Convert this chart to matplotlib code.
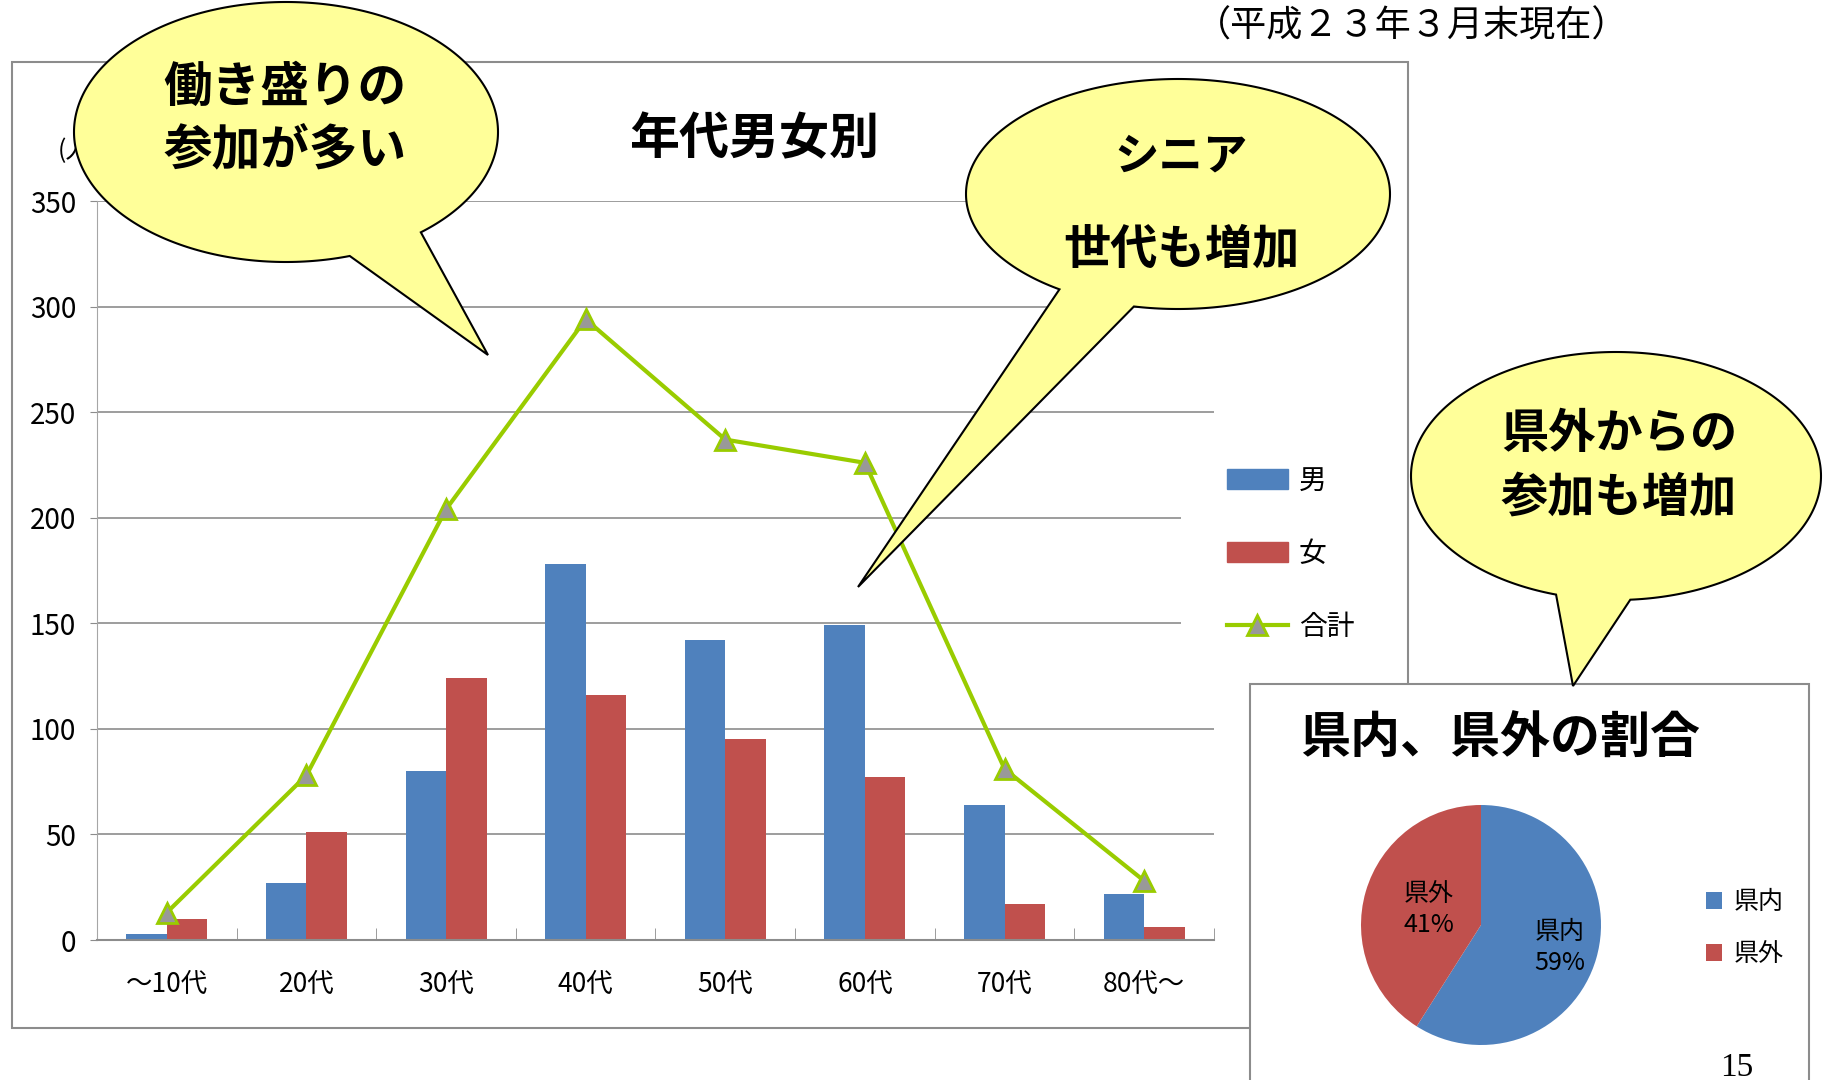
import numpy as np
import matplotlib
matplotlib.use('Agg')
import matplotlib.pyplot as plt
from matplotlib.patches import Rectangle, Polygon, Patch
from matplotlib.lines import Line2D

plt.rcParams['font.family'] = ['Noto Sans CJK JP', 'DejaVu Sans']

# data
ages = ['～10代', '20代', '30代', '40代', '50代', '60代', '70代', '80代～']
male = [3, 27, 80, 178, 142, 149, 64, 22]
female = [10, 51, 124, 116, 95, 77, 17, 6]
total = [13, 78, 204, 294, 237, 226, 81, 28]
yticks = [0, 50, 100, 150, 200, 250, 300, 350]

pie_labels = ['県内', '県外']
pie_share = [59, 41]

W, H = 1824, 1080
BLUE, RED, GREEN = '#4F81BD', '#C0504D', '#99CC00'
YELLOW = '#FFFF99'
FRAME = '#8c8c8c'

fig = plt.figure(figsize=(W / 100, H / 100), dpi=100)


def px_axes(x0, y0, x1, y1, z):
    # box in pixels, y measured from the top
    return fig.add_axes([x0 / W, 1 - y1 / H, (x1 - x0) / W, (y1 - y0) / H], zorder=z)


def layer(z):
    a = px_axes(0, 0, W, H, z)
    a.set_xlim(0, W)
    a.set_ylim(H, 0)
    a.axis('off')
    a.patch.set_alpha(0)
    return a


# background: main chart frame and date note
bg = layer(0)
bg.add_patch(Rectangle((12, 62), 1396, 966, facecolor='white', edgecolor=FRAME, lw=1.5))
bg.text(1412, 26, '（平成２３年３月末現在）', ha='center', va='center', fontsize=26)
bg.text(58, 151, '(人)', ha='left', va='center', fontsize=18)
bg.text(754, 140, '年代男女別', ha='center', va='center', fontsize=36, weight='bold')

# main bar + line chart
ax = px_axes(97, 201, 1214, 940, 1)
ax.patch.set_alpha(0)
x = np.arange(len(ages))
bw = 0.29
ax.bar(x - bw / 2, male, bw, color=BLUE, zorder=2)
ax.bar(x + bw / 2, female, bw, color=RED, zorder=2)
ax.plot(x, total, color=GREEN, lw=3, marker='^', ms=14, mfc='#999999',
        mec=GREEN, mew=2, zorder=3)
ax.set_xlim(-0.5, len(ages) - 0.5)
ax.set_ylim(0, 350)
ax.set_yticks(yticks)
ax.tick_params(axis='y', labelsize=20, length=5, color=FRAME, pad=10)
ax.set_xticks(x)
ax.set_xticklabels(ages)
ax.set_xticks(np.arange(-0.5, len(ages)), minor=True)
ax.tick_params(axis='x', which='major', length=0, labelsize=19, pad=22)
ax.tick_params(axis='x', which='minor', direction='in', length=9, color=FRAME)
ax.grid(axis='y', color='#8c8c8c', lw=1.2, zorder=0)
ax.set_axisbelow(True)
for s in ['top', 'right']:
    ax.spines[s].set_visible(False)
ax.spines['left'].set_color('#a6a6a6')
ax.spines['bottom'].set_color('#8c8c8c')
ax.spines['bottom'].set_linewidth(1.5)

handles = [Patch(color=BLUE), Patch(color=RED),
           Line2D([], [], color=GREEN, lw=3, marker='^', ms=14,
                  mfc='#999999', mec=GREEN, mew=2)]
leg = ax.legend(handles, ['男', '女', '合計'], loc='upper left',
                bbox_to_anchor=(1181 / W, 1 - 420 / H), bbox_transform=fig.transFigure,
                frameon=True, facecolor='white', edgecolor='none', fancybox=False,
                fontsize=20, handlelength=2.2, handletextpad=0.4, labelspacing=1.55,
                borderpad=1.65, borderaxespad=0)
leg.get_frame().set_alpha(1)

# pie panel
panel = layer(2)
panel.add_patch(Rectangle((1250, 684), 559, 500, facecolor='white', edgecolor=FRAME, lw=1.5))
panel.text(1500, 739, '県内、県外の割合', ha='center', va='center', fontsize=36, weight='bold')
panel.text(1737, 1052, '15', ha='center', va='top', fontsize=24, family='Liberation Serif')

pax = px_axes(1361, 805, 1601, 1045, 3)
wedges, _ = pax.pie(pie_share, colors=[BLUE, RED], startangle=90, counterclock=False,
                    wedgeprops=dict(lw=0))
pax.set_xlim(-1, 1)
pax.set_ylim(-1, 1)
for w, lab, pct, dist in zip(wedges, pie_labels, pie_share, [0.68, 0.45]):
    ang = np.radians((w.theta1 + w.theta2) / 2)
    pax.text(dist * np.cos(ang), dist * np.sin(ang), f'{lab}\n{pct}%',
             ha='center', va='center', fontsize=18, linespacing=1.25)
pax.legend(wedges, pie_labels, loc='upper left',
           bbox_to_anchor=(1706 / W, 1 - 889 / H), bbox_transform=fig.transFigure,
           frameon=False, fontsize=18, handlelength=0.65, handleheight=0.65,
           handletextpad=0.45, labelspacing=1.05, borderpad=0, borderaxespad=0)

# speech bubbles on top
ov = layer(4)


def bubble(cx, cy, a, b, t1, t2, tip):
    t = np.radians(np.linspace(t2, t1 + 360, 300))
    pts = np.column_stack([cx + a * np.cos(t), cy + b * np.sin(t)]).tolist() + [tip]
    ov.add_patch(Polygon(pts, closed=True, facecolor=YELLOW, edgecolor='black', lw=1.5))


bubble(286, 132, 212, 130, 50.5, 72.5, (488, 355))
ov.text(285, 87, '働き盛りの', ha='center', va='center', fontsize=35, weight='bold')
ov.text(285, 151, '参加が多い', ha='center', va='center', fontsize=35, weight='bold')

bubble(1178, 194, 212, 115, 102, 124, (858, 587))
ov.text(1181, 157, 'シニア', ha='center', va='center', fontsize=32, weight='bold')
ov.text(1181, 250, '世代も増加', ha='center', va='center', fontsize=34, weight='bold')

bubble(1616, 476, 205, 124, 86, 107, (1573, 686))
ov.text(1619, 434, '県外からの', ha='center', va='center', fontsize=34, weight='bold')
ov.text(1619, 498, '参加も増加', ha='center', va='center', fontsize=34, weight='bold')

fig.savefig('out.png', dpi=100)
